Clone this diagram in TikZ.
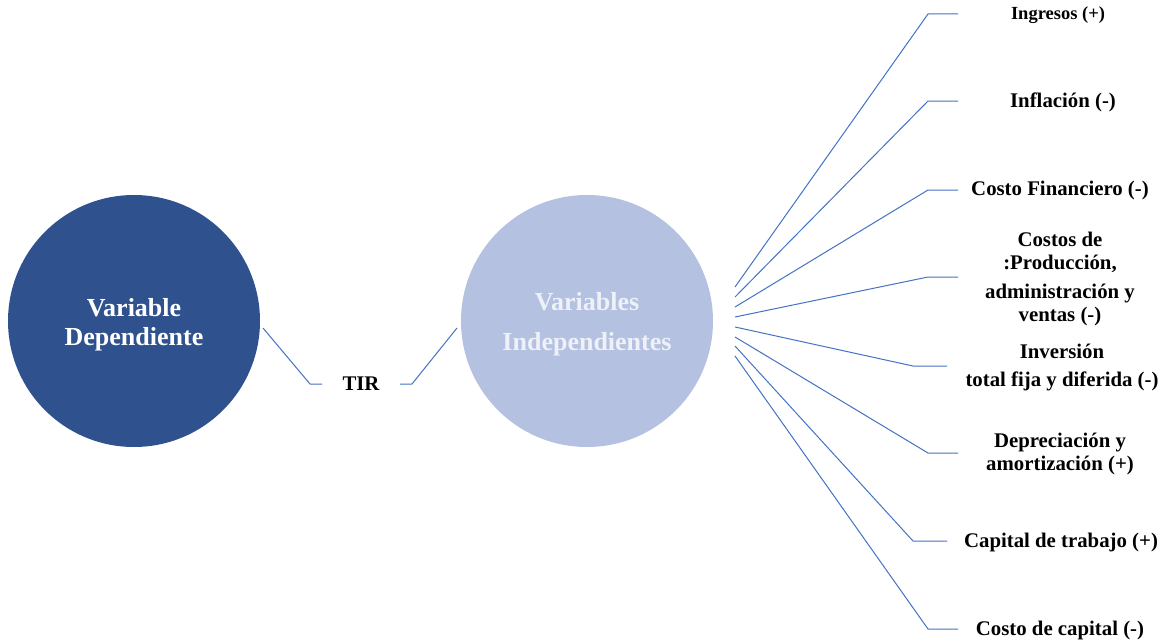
\documentclass[tikz,border=0pt]{standalone}
\usepackage{fontspec}
\setmainfont{Liberation Serif}
\begin{document}
\begin{tikzpicture}[x=1pt,y=-1pt,
  link/.style={draw=linkblue,line width=1pt},
  lbl/.style={font=\bfseries\fontsize{20.8}{23}\selectfont,align=center,inner sep=0pt,text=black},
  bigtxt/.style={font=\bfseries\fontsize{26}{29}\selectfont,align=center,inner sep=0pt}]
\definecolor{linkblue}{HTML}{4472C4}
\definecolor{darkcirc}{HTML}{2F528F}
\definecolor{lightcirc}{HTML}{B4C1E1}
\definecolor{lighttxt}{HTML}{EEF1F8}
\useasboundingbox (0,0) rectangle (1165,642);
\fill[white] (0,0) rectangle (1165,642);
% the two circles
\node[circle,fill=darkcirc,minimum size=252pt,inner sep=0pt] (dep) at (134,321) {};
\node[bigtxt,text=white] (deptxt) at (134,325) {Variable\\Dependiente};
\node[circle,fill=lightcirc,minimum size=252pt,inner sep=0pt] (ind) at (587,321) {};
\node[bigtxt,text=lighttxt,font=\bfseries\fontsize{26}{40}\selectfont] (indtxt) at (587,324) {Variables\\Independientes};
% TIR label between them
\node[lbl] (tir) at (361,384) {TIR};
\coordinate (a1) at (263,328); \coordinate (a2) at (310,384); \coordinate (a3) at (322,384);
\coordinate (b1) at (400,384); \coordinate (b2) at (412,384); \coordinate (b3) at (457,328);
\draw[link] (a1) -- (a2) -- (a3);
\draw[link] (b1) -- (b2) -- (b3);
% independent variables
\node[lbl,font=\bfseries\fontsize{18.5}{22}\selectfont] (v1) at (1058,15) {Ingresos (+)};
\node[lbl] (v2) at (1063,102) {Inflación (-)};
\node[lbl] (v3) at (1060,190) {Costo Financiero (-)};
\node[lbl] (v4a) at (1060,252) {Costos de\\:Producción,};
\node[lbl] (v4b) at (1060,305) {administración y\\ventas (-)};
\node[lbl] (v5a) at (1062,351) {Inversión};
\node[lbl] (v5b) at (1062,381) {total fija y diferida (-)};
\node[lbl] (v6) at (1060,454) {Depreciación y\\amortización (+)};
\node[lbl] (v7) at (1061,542) {Capital de trabajo (+)};
\node[lbl] (v8) at (1060,630) {Costo de capital (-)};
% fan of connectors
\foreach \i/\sy/\ex/\ey/\hx in {1/287/928/14/958, 2/297/928/101/958, 3/307/928/190/958,
  4/317/928/277/958, 5/327/913/366/947, 6/337/928/453/958, 7/346/913/541/947, 8/356/928/629/958}{
  \coordinate (s\i) at (735,\sy);
  \coordinate (e\i) at (\ex,\ey);
  \coordinate (h\i) at (\hx,\ey);
  \draw[link] (s\i) -- (e\i) -- (h\i);
}
\end{tikzpicture}
\end{document}
